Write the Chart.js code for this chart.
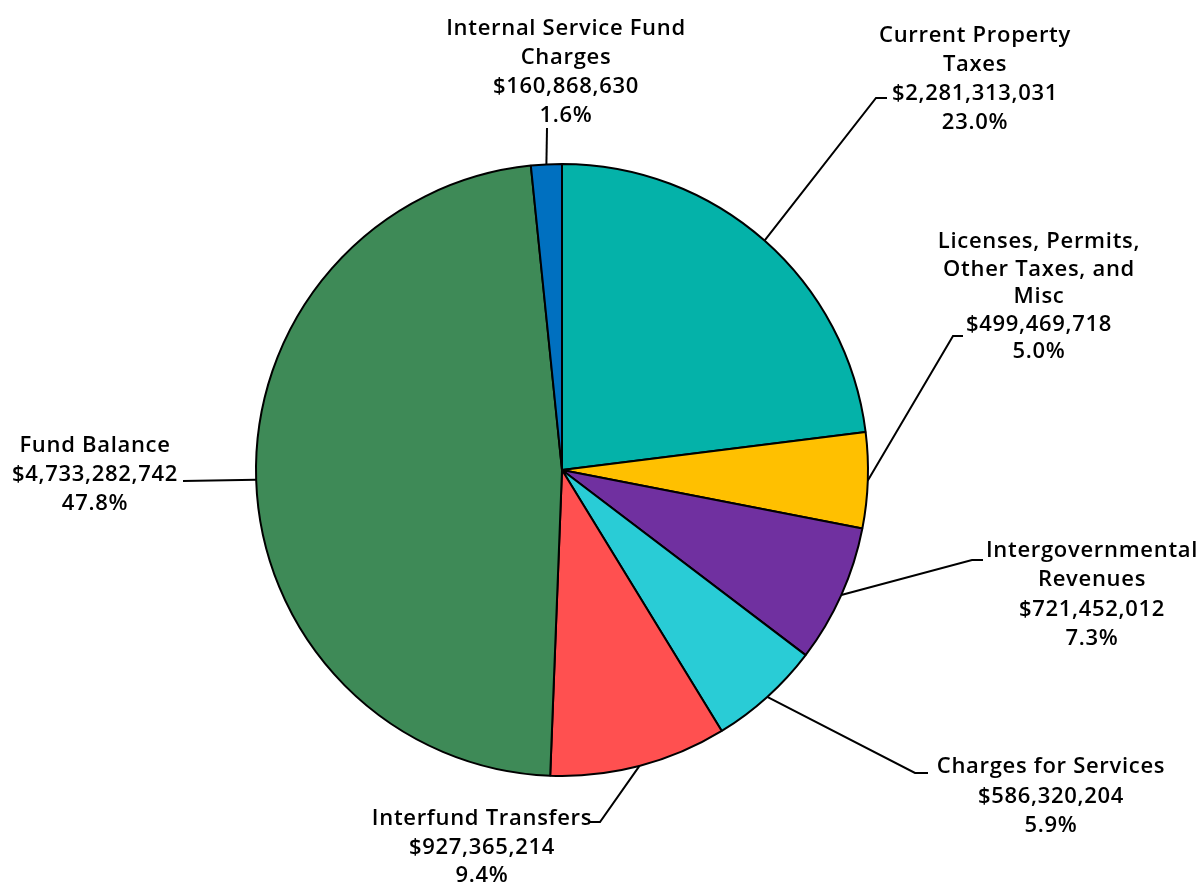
<!DOCTYPE html>
<html>
<head>
<meta charset="utf-8">
<script src="https://cdn.jsdelivr.net/npm/chart.js@4"></script>
<style>
  html, body { margin: 0; padding: 0; background: #fff; }
  canvas { display: block; }
</style>
</head>
<body>
<canvas id="chart-revenue" width="1204" height="885"></canvas>
<script>
/* global Chart */

// Revenue sources, clockwise from 12 o'clock
const sliceNames = [
  ["Current Property", "Taxes"],
  ["Licenses, Permits,", "Other Taxes, and", "Misc"],
  ["Intergovernmental", "Revenues"],
  ["Charges for Services"],
  ["Interfund Transfers"],
  ["Fund Balance"],
  ["Internal Service Fund", "Charges"],
];
const amounts = [2281313031, 499469718, 721452012, 586320204, 927365214, 4733282742, 160868630];
const sliceColors = ["#04B2A9", "#FFC000", "#7030A0", "#29CCD6", "#FF5050", "#3E8A57", "#0070C0"];

// where each label block sits and how its leader line bends
const labelLayout = [
  { cx: 975, top: 42, lh: 29, elbow: [876, 98], end: [887, 98] },
  { cx: 1039, top: 248, lh: 27.5, elbow: [953, 336], end: [963, 336] },
  { cx: 1092, top: 557, lh: 29.3, elbow: [972, 560], end: [983, 560] },
  { cx: 1051, top: 773, lh: 29.5, elbow: [915, 773], end: [928, 773] },
  { cx: 482, top: 825, lh: 28.5, elbow: [600, 822], end: [590, 822] },
  { cx: 95, top: 452, lh: 29, elbow: [183, 481], end: [183, 481] },
  { cx: 566, top: 35, lh: 29, elbow: [547, 128], end: [547, 128] },
];

const labelFont = "600 22px 'Open Sans', sans-serif";

const sliceLabels = {
  id: "sliceLabels",
  afterDatasetsDraw(chart) {
    const ctx = chart.ctx;
    const arcs = chart.getDatasetMeta(0).data;
    const total = amounts.reduce((a, b) => a + b, 0);
    ctx.save();
    ctx.strokeStyle = "#000";
    ctx.lineWidth = 2;
    ctx.fillStyle = "#000";
    ctx.font = labelFont;
    ctx.letterSpacing = "0.7px";
    ctx.textAlign = "center";
    ctx.textBaseline = "alphabetic";
    arcs.forEach((arc, i) => {
      const p = arc.getProps(["x", "y", "startAngle", "endAngle", "outerRadius"], true);
      const mid = (p.startAngle + p.endAngle) / 2;
      const ax = p.x + Math.cos(mid) * p.outerRadius;
      const ay = p.y + Math.sin(mid) * p.outerRadius;
      const L = labelLayout[i];
      ctx.beginPath();
      ctx.moveTo(ax, ay);
      ctx.lineTo(L.elbow[0], L.elbow[1]);
      ctx.lineTo(L.end[0], L.end[1]);
      ctx.stroke();
      const lines = [
        ...sliceNames[i],
        "$" + amounts[i].toLocaleString("en-US"),
        ((amounts[i] / total) * 100).toFixed(1) + "%",
      ];
      lines.forEach((t, k) => ctx.fillText(t, L.cx, L.top + k * L.lh));
    });
    ctx.restore();
  },
};

new Chart(document.getElementById("chart-revenue"), {
  type: "pie",
  data: {
    labels: sliceNames.map((n) => n.join(" ")),
    datasets: [{
      data: amounts,
      backgroundColor: sliceColors,
      borderColor: "#000",
      borderWidth: 2,
    }],
  },
  options: {
    responsive: false,
    animation: false,
    events: [],
    layout: { padding: { left: 255, right: 335, top: 163, bottom: 108 } },
    plugins: { legend: { display: false }, tooltip: { enabled: false } },
  },
  plugins: [sliceLabels],
});
</script>
</body>
</html>
